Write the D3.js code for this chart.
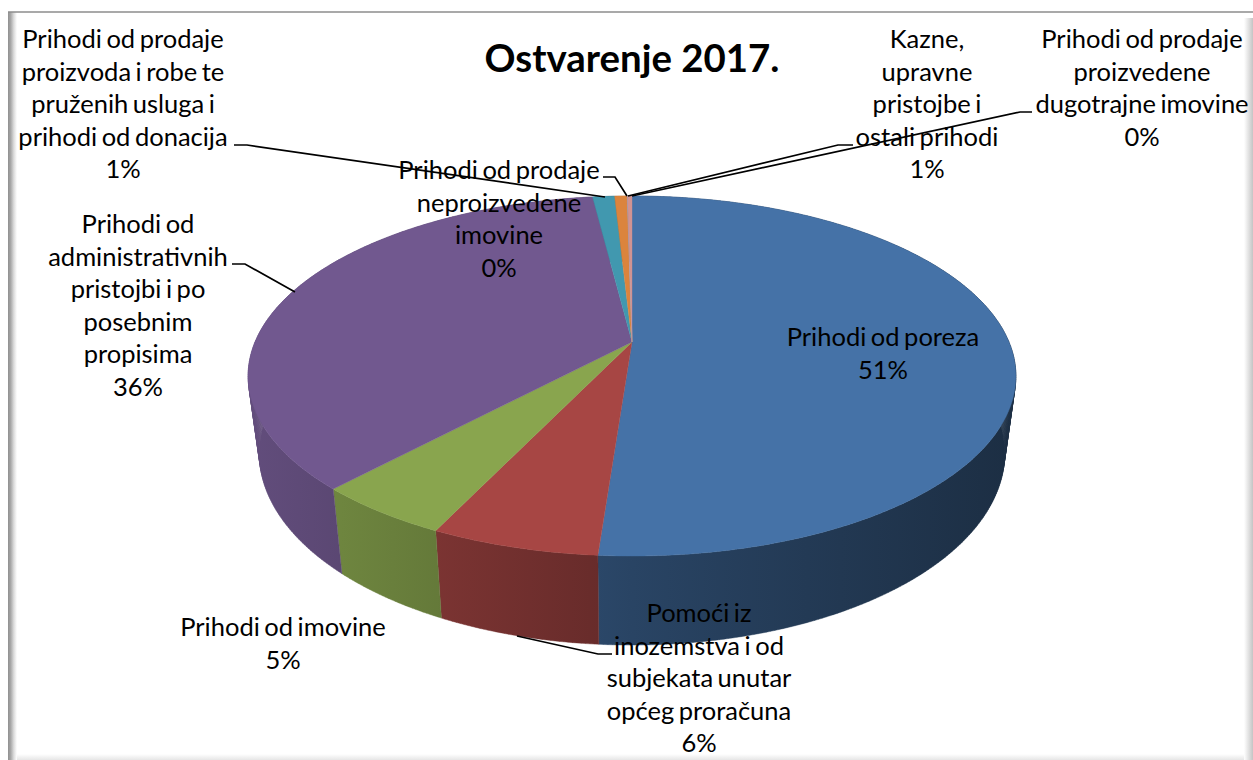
<!DOCTYPE html>
<html>
<head>
<meta charset="utf-8">
<script src="https://cdn.jsdelivr.net/npm/d3@7"></script>
<style>
html, body { margin: 0; padding: 0; background: #fff; overflow: hidden; }
text { font-family: Lato, "Open Sans", sans-serif; fill: #000; }
</style>
</head>
<body>
<svg id="chart" width="1253" height="760"></svg>
<script>
var chartTitle = "Ostvarenje 2017.";
var categories = [
    "Prihodi od poreza",
    "Pomoći iz|inozemstva i od|subjekata unutar|općeg proračuna",
    "Prihodi od imovine",
    "Prihodi od|administrativnih|pristojbi i po|posebnim|propisima",
    "Prihodi od prodaje|proizvoda i robe te|pruženih usluga i|prihodi od donacija",
    "Prihodi od prodaje|neproizvedene|imovine",
    "Kazne,|upravne|pristojbe i|ostali prihodi",
    "Prihodi od prodaje|proizvedene|dugotrajne imovine"
];
var shares = [51.17, 5.94, 4.86, 36.05, 1.11, 0.63, 0.02, 0.22];
var shareLabels = ["51%", "6%", "5%", "36%", "1%", "0%", "1%", "0%"];
var colors = ["#4572a7", "#a74644", "#89a54e", "#71588f", "#4198af", "#db843d", "#93a9cf", "#d19392"];

// label anchor: centre x, baseline of first line
var labelPos = [[883, 346], [699, 622], [283, 636], [138, 233], [123, 48], [499, 179], [927, 48], [1142, 48]];
// leader lines in page pixels
var leaders = [
    null,
    [[612, 654], [598, 654], [517, 636]],
    null,
    [[232, 264], [245, 264], [295, 292]],
    [[234, 145], [247, 145], [605, 197]],
    [[603, 177], [615, 177], [627, 196]],
    [[853, 145], [838, 145], [628, 196]],
    [[1032, 112], [1020, 112], [632, 196]]
];

var width = 1253, height = 760;
var svg = d3.select("#chart");
var defs = svg.append("defs");

// perspective of the disc: u is right, v is toward the viewer
var persp = 0.1889;
var topDisc = { cx: 632, cy: 342, a: 377, b: 173.6 };
var bottomDisc = { cx: 632, cy: 417, a: 366, b: 185 };

function project(disc, angle) {
    var u = Math.sin(angle), v = -Math.cos(angle), w = 1 - persp * v;
    return [disc.cx + disc.a * u / w, disc.cy + disc.b * v / w];
}

function addGradient(id, x2, y2, stops) {
    var g = defs.append("linearGradient").attr("id", id)
        .attr("x1", 0).attr("y1", 0).attr("x2", x2).attr("y2", y2);
    stops.forEach(function(s) {
        g.append("stop").attr("offset", s[0]).attr("stop-color", s[1]);
    });
}

// frame with the soft shadow edges
addGradient("leftEdge", 1, 0, [[0, "#8f8f8f"], [0.3, "#a8a8a8"], [0.65, "#dcdcdc"], [1, "#ffffff"]]);
addGradient("rightEdge", 1, 0, [[0, "#ffffff"], [0.5, "#e2e2e2"], [1, "#c4c4c4"]]);
addGradient("bottomEdge", 0, 1, [[0, "#ffffff"], [1, "#e6e6e6"]]);

svg.append("rect").attr("x", 8).attr("y", 12).attr("width", 9).attr("height", height - 12).attr("fill", "url(#leftEdge)");
svg.append("rect").attr("x", 1244).attr("y", 18).attr("width", 9).attr("height", height - 18).attr("fill", "url(#rightEdge)");
svg.append("rect").attr("x", 17).attr("y", 754).attr("width", 1227).attr("height", 6).attr("fill", "url(#bottomEdge)");
svg.append("line").attr("x1", 8).attr("x2", width).attr("y1", 12).attr("y2", 12)
    .attr("stroke", "#8c8c8c").attr("stroke-width", 1.5);

var pie = d3.pie().sort(null).value(function(d) { return d; }).startAngle(0).endAngle(2 * Math.PI);
var arcs = pie(shares);
var line = d3.line();
var sideShade = d3.scaleLinear().domain([248, 632, 1016]).range([0.87, 0.6, 0.4]);

function sampleAngles(d) {
    var n = Math.max(1, Math.ceil((d.endAngle - d.startAngle) / 0.01));
    return d3.range(n + 1).map(function(i) {
        return d.startAngle + (d.endAngle - d.startAngle) * i / n;
    });
}

// one horizontal gradient per slice for the side wall
colors.forEach(function(c, i) {
    var col = d3.rgb(c);
    var g = defs.append("linearGradient").attr("id", "side" + i)
        .attr("gradientUnits", "userSpaceOnUse")
        .attr("x1", sideShade.domain()[0]).attr("y1", 0)
        .attr("x2", sideShade.domain()[2]).attr("y2", 0);
    sideShade.domain().forEach(function(x, k) {
        var f = sideShade(x);
        g.append("stop").attr("offset", k / 2)
            .attr("stop-color", d3.rgb(col.r * f, col.g * f, col.b * f).formatHex());
    });
});

// side wall first, the top disc covers the back part of it
// all quads of a slice go in one path so no seams show between them
svg.append("g").selectAll("path")
    .data(arcs)
    .enter().append("path")
    .attr("d", function(d) {
        var angles = sampleAngles(d), out = "";
        for (var k = 0; k < angles.length - 1; k++) {
            var a0 = angles[k], a1 = angles[k + 1];
            out += line([project(topDisc, a0), project(topDisc, a1), project(bottomDisc, a1), project(bottomDisc, a0)]) + "Z";
        }
        return out;
    })
    .attr("fill", function(d, i) { return "url(#side" + i + ")"; })
    .attr("stroke", function(d, i) { return "url(#side" + i + ")"; })
    .attr("stroke-width", 0.4);

svg.append("g").selectAll("path")
    .data(arcs)
    .enter().append("path")
    .attr("d", function(d) {
        var pts = sampleAngles(d).map(function(a) { return project(topDisc, a); });
        return line([[topDisc.cx, topDisc.cy]].concat(pts)) + "Z";
    })
    .attr("fill", function(d, i) { return colors[i]; })
    .attr("stroke", function(d, i) { return colors[i]; })
    .attr("stroke-width", 0.4);

svg.append("g").selectAll("path")
    .data(leaders.filter(function(d) { return d; }))
    .enter().append("path")
    .attr("d", function(d) { return line(d); })
    .attr("fill", "none")
    .attr("stroke", "#000")
    .attr("stroke-width", 1.7);

svg.append("text")
    .attr("x", 632).attr("y", 72)
    .attr("text-anchor", "middle")
    .style("font-size", "38.4px").style("font-weight", "700")
    .text(chartTitle);

categories.forEach(function(name, i) {
    var rows = name.split("|").concat(shareLabels[i]);
    var label = svg.append("text")
        .attr("text-anchor", "middle")
        .style("font-size", "25.5px")
        .style("word-spacing", "-2px");
    rows.forEach(function(r, k) {
        label.append("tspan")
            .attr("x", labelPos[i][0])
            .attr("y", labelPos[i][1] + k * 32.5)
            .text(r);
    });
});
</script>
</body>
</html>
